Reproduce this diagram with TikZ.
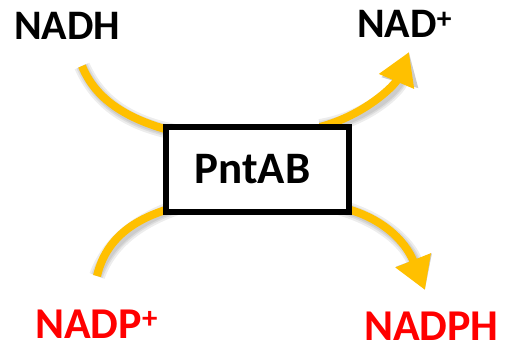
\documentclass[tikz,border=0pt]{standalone}
\usepackage{fontspec}
\setmainfont{Carlito}
\usetikzlibrary{arrows.meta}
\definecolor{fluxyellow}{HTML}{FFC000}
\definecolor{cofred}{HTML}{FF0000}
\tikzset{
  flux/.style={draw=fluxyellow, line width=8pt},
  fluxshadow/.style={draw=black, opacity=0.07, line width=#1},
  fluxtip/.style={-{Triangle[length=32pt,width=36pt]}},
  label/.style={inner sep=0pt, text depth=0pt, anchor=base west, font=\bfseries\fontsize{42}{42}\selectfont},
  redlabel/.style={label, cofred, font=\bfseries\fontsize{44}{44}\selectfont},
}
\begin{document}
\begin{tikzpicture}[x=1pt,y=-1pt]
\useasboundingbox (0,0) rectangle (505,347);
\node[label] (nadh) at (14,40){NADH};
\node[label] (nad) at (357,38){NAD\textsuperscript{+}};
\node[redlabel] (nadp) at (35,338){NADP\textsuperscript{+}};
\node[redlabel] (nadph) at (364,340){NADPH};
\coordinate (nadh-in) at (82,66);
\coordinate (nadp-in) at (97,276);
\coordinate (nad-out) at (409,52);
\coordinate (nadph-out) at (425,290);
\node[inner sep=0pt, outer sep=0pt, minimum width=183pt, minimum height=85pt] (pntab) at (257.5,169.5){};
% shadows
\foreach \w in {16pt,12pt,9pt}{
\draw[fluxshadow=\w, shift={(3,4)}] (nadh-in) .. controls (95,98) and (125,120) .. ([shift={(14,6)}]pntab.north west);
\draw[fluxshadow=\w, shift={(3,4)}] ([shift={(14,-6)}]pntab.south west) .. controls (130,218) and (105,242) .. (nadp-in);
\draw[fluxshadow=\w, shift={(3,4)}, fluxtip] ([shift={(-29,0)}]pntab.north east) .. controls (365,115) and (395,85) .. (nad-out);
\draw[fluxshadow=\w, shift={(3,4)}, fluxtip] ([shift={(-14,-6)}]pntab.south east) .. controls (380,215) and (405,240) .. (nadph-out);
}
% fluxes
\draw[flux] (nadh-in) .. controls (95,98) and (125,120) .. ([shift={(14,6)}]pntab.north west);
\draw[flux] ([shift={(14,-6)}]pntab.south west) .. controls (130,218) and (105,242) .. (nadp-in);
\draw[flux, fluxtip] ([shift={(-29,0)}]pntab.north east) .. controls (365,115) and (395,85) .. (nad-out);
\draw[flux, fluxtip] ([shift={(-14,-6)}]pntab.south east) .. controls (380,215) and (405,240) .. (nadph-out);
\node[draw, fill=white, line width=6pt, inner sep=0pt, outer sep=0pt, minimum width=183pt, minimum height=85pt] (box) at (pntab){};
\node[inner sep=0pt, font=\bfseries\fontsize{45}{45}\selectfont] (name) at ([xshift=-5pt]box.center){PntAB};
\end{tikzpicture}
\end{document}
